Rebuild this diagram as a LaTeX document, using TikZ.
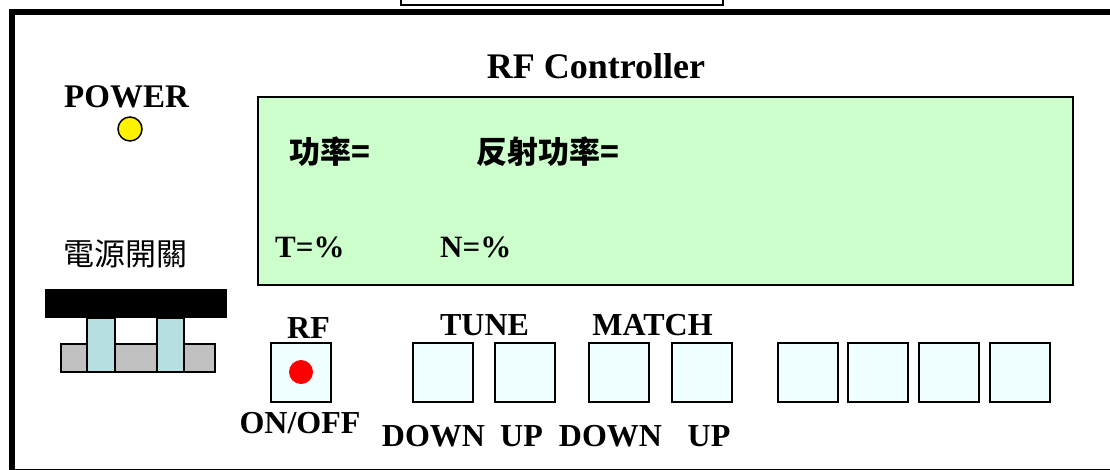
\documentclass[tikz,border=0pt]{standalone}
\usepackage{fontspec}
\setmainfont{Liberation Serif}
\newfontfamily\cjk{Noto Sans CJK TC}
\definecolor{lcdgreen}{HTML}{CCFFCC}
\definecolor{btnfill}{HTML}{F0FFFF}
\definecolor{postblue}{HTML}{B7DEE1}
\definecolor{basegray}{HTML}{C0C0C0}
\tikzset{
  lbl/.style={font=\bfseries\fontsize{32}{36}\selectfont, anchor=base, inner sep=0},
  lcdtxt/.style={font=\bfseries\fontsize{31}{36}\selectfont, anchor=base west, inner sep=0},
  cjktxt/.style={font=\cjk\bfseries\fontsize{31}{36}\selectfont, anchor=base west, inner sep=0},
  btn/.style={draw, line width=2, fill=btnfill, minimum width=60, minimum height=59, inner sep=0},
  part/.style={draw, line width=1.5, inner sep=0}
}
\begin{document}
\begin{tikzpicture}[x=1pt,y=-1pt]
\useasboundingbox (0,0) rectangle (1110,469);
\clip (0,0) rectangle (1110,469);
% outer frame
\draw[line width=6] (12,12) rectangle (1130,471.5);
% top caption box (cut off)
\draw[line width=2.5] (401,-20) rectangle (723,5);
% title
\node[font=\bfseries\fontsize{36}{40}\selectfont, anchor=base, inner sep=0] (title) at (596,78) {RF Controller};
% power
\node[font=\bfseries\fontsize{33}{38}\selectfont, anchor=base, inner sep=0] (power) at (126.5,107) {POWER};
\node[circle, draw, line width=1.5, fill=yellow, minimum size=24, inner sep=0] (led) at (130,129) {};
% LCD
\node[draw, line width=2, fill=lcdgreen, minimum width=815, minimum height=188, inner sep=0] (lcd) at (665.5,191) {};
\node[cjktxt] (pw) at (289,163) {功率=};
\node[cjktxt] (rpw) at (476,163) {反射功率=};
\node[lcdtxt] (tt) at (275,257) {T=\%};
\node[lcdtxt] (nn) at (440,257) {N=\%};
% power switch
\node[font=\cjk\fontsize{31}{36}\selectfont, anchor=base, inner sep=0] (swl) at (125.5,265) {電源開關};
\node[part, fill=basegray, minimum width=154, minimum height=28] (swbase) at (138,358) {};
\node[part, fill=postblue, minimum width=28, minimum height=54] (post1) at (101,345) {};
\node[part, fill=postblue, minimum width=27, minimum height=54] (post2) at (170.5,345) {};
\node[fill=black, minimum width=182, minimum height=29, inner sep=0] (swtop) at (136,303.5) {};
% RF button
\node[lbl] (rfl) at (308.5,338) {RF};
\node[btn] (rf) at (301,372.5) {};
\node[circle, fill=red, minimum size=24, inner sep=0] (rfdot) at (301,372) {};
\node[lbl] (onoff) at (300,433) {ON/OFF};
% tune / match
\node[lbl] (tune) at (484.5,335) {TUNE};
\node[lbl] (match) at (652.5,335) {MATCH};
\node[btn] (td) at (442.5,372.5) {};
\node[btn] (tu) at (525,372.5) {};
\node[btn] (md) at (619,372.5) {};
\node[btn] (mu) at (702,372.5) {};
\node[lbl] (tdl) at (433.5,446) {DOWN};
\node[lbl] (tul) at (521.5,446) {UP};
\node[lbl] (mdl) at (610.5,446) {DOWN};
\node[lbl] (mul) at (709,446) {UP};
% spare buttons
\node[btn] (b1) at (807.5,372) {};
\node[btn] (b2) at (878,372) {};
\node[btn] (b3) at (949,372) {};
\node[btn] (b4) at (1020,372) {};
\end{tikzpicture}
\end{document}
